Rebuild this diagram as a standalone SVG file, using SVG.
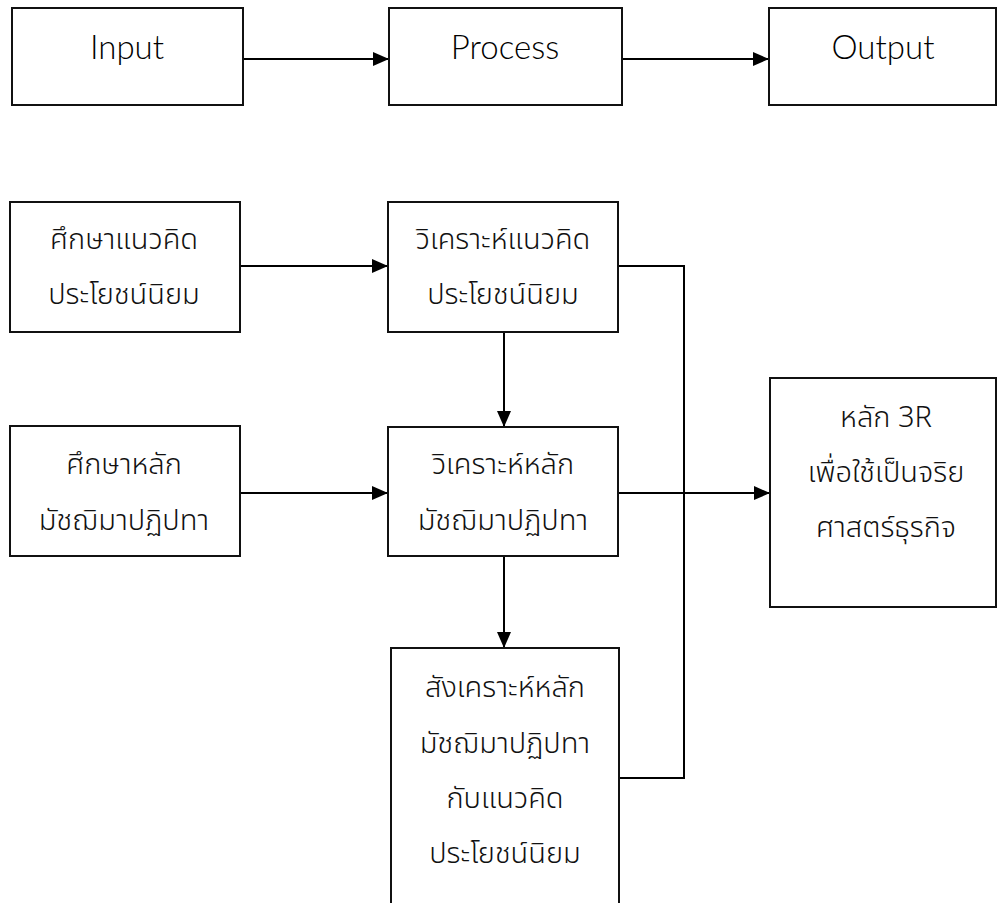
<svg xmlns="http://www.w3.org/2000/svg" width="997" height="903" viewBox="0 0 997 903">
<defs>
<marker id="ah" markerWidth="16" markerHeight="14" refX="16" refY="7" orient="auto" markerUnits="userSpaceOnUse">
<path d="M0,0 L16,7 L0,14 Z" fill="#000"/>
</marker>
<style>
.box{fill:#fff;stroke:#111;stroke-width:2}
.en{font-family:Lato,"Open Sans",sans-serif;font-weight:300;font-size:33px;fill:#000;text-anchor:middle}
.th{font-family:"Noto Sans Thai","Noto Sans","DejaVu Sans",sans-serif;font-weight:300;font-size:29px;fill:#111;text-anchor:middle}
.c{fill:none;stroke:#000;stroke-width:2}
</style>
</defs>
<rect width="997" height="903" fill="#fff"/>
<g id="connectors">
<line class="c" x1="243" y1="59" x2="389" y2="59" marker-end="url(#ah)"/>
<line class="c" x1="622" y1="59" x2="769" y2="59" marker-end="url(#ah)"/>
<line class="c" x1="240" y1="266" x2="388" y2="266" marker-end="url(#ah)"/>
<line class="c" x1="240" y1="493" x2="388" y2="493" marker-end="url(#ah)"/>
<line class="c" x1="504" y1="332" x2="504" y2="427" marker-end="url(#ah)"/>
<line class="c" x1="504" y1="556" x2="504" y2="648" marker-end="url(#ah)"/>
<line class="c" x1="618" y1="493" x2="770" y2="493" marker-end="url(#ah)"/>
<polyline class="c" points="618,266 684,266 684,778 619,778"/>
</g>
<g id="input"><rect class="box" x="12" y="8" width="231" height="97"/><text class="en" x="127" y="59">Input</text></g>
<g id="process"><rect class="box" x="389" y="8" width="233" height="97"/><text class="en" x="505" y="59">Process</text></g>
<g id="output"><rect class="box" x="769" y="8" width="227" height="97"/><text class="en" x="883" y="59">Output</text></g>
<g id="study-util"><rect class="box" x="10" y="202" width="230" height="130"/><text class="th" x="124" y="249">ศึกษาแนวคิด</text><text class="th" x="124" y="304">ประโยชน์นิยม</text></g>
<g id="analyze-util"><rect class="box" x="388" y="202" width="230" height="130"/><text class="th" x="503" y="249">วิเคราะห์แนวคิด</text><text class="th" x="503" y="304">ประโยชน์นิยม</text></g>
<g id="study-middle"><rect class="box" x="10" y="426" width="230" height="130"/><text class="th" x="124" y="474">ศึกษาหลัก</text><text class="th" x="124" y="530">มัชฌิมาปฏิปทา</text></g>
<g id="analyze-middle"><rect class="box" x="388" y="427" width="230" height="129"/><text class="th" x="503" y="474">วิเคราะห์หลัก</text><text class="th" x="503" y="530">มัชฌิมาปฏิปทา</text></g>
<g id="principle-3r"><rect class="box" x="770" y="378" width="226" height="229"/><text class="th" x="886" y="427">หลัก 3R</text><text class="th" x="886" y="482">เพื่อใช้เป็นจริย</text><text class="th" x="886" y="537">ศาสตร์ธุรกิจ</text></g>
<g id="synthesize"><rect class="box" x="391" y="648" width="228" height="270"/><text class="th" x="505" y="697">สังเคราะห์หลัก</text><text class="th" x="505" y="753">มัชฌิมาปฏิปทา</text><text class="th" x="505" y="808">กับแนวคิด</text><text class="th" x="505" y="863">ประโยชน์นิยม</text></g>
</svg>
